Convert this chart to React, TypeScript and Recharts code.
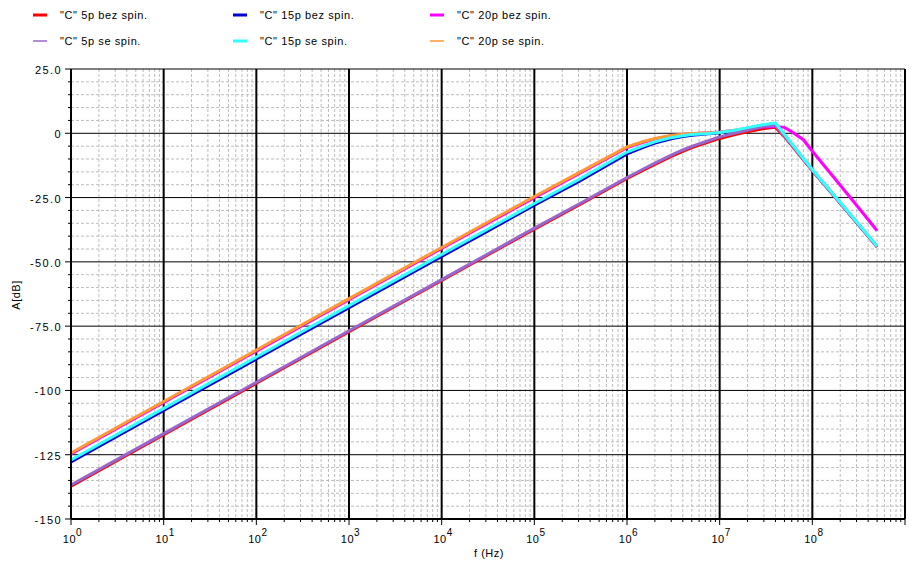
import React from 'react';
import { LineChart, Line, XAxis, YAxis, CartesianGrid } from 'recharts';

// Frequencies (Hz) at which the curves were read
const freqs = [1, 10, 100, 1e3, 1e4, 1e5, 3e5, 1e6, 1.5e6, 2e6, 3e6, 4e6, 5e6, 7e6, 1e7, 1.5e7, 2e7, 3e7, 4e7, 5e7, 6e7, 8e7, 1e8, 2e8, 3e8, 5e8];

// Amplitude A [dB] per series
const c5bez = [-137.2, -117.2, -97.2, -77.2, -57.2, -37.3, -28.0, -17.6, -14.3, -12.1, -9.0, -7.0, -5.6, -3.8, -2.0, -0.4, 0.6, 1.9, 2.3, -1.3, -4.8, -10.3, -14.5, -27.2, -34.7, -44.1];
const c5se = [-136.8, -116.8, -96.8, -76.8, -56.9, -36.9, -27.6, -17.2, -13.9, -11.6, -8.5, -6.5, -5.1, -3.3, -1.4, 0.2, 1.2, 2.7, 3.1, -1.1, -4.6, -10.1, -14.4, -27.1, -34.6, -44.0];
const c15bez = [-127.8, -107.8, -87.8, -67.8, -47.9, -28.0, -18.8, -8.0, -5.5, -3.8, -2.1, -1.3, -0.8, -0.3, 0.2, 1.1, 2.0, 3.2, 3.8, -0.6, -4.2, -10.0, -14.3, -27.1, -34.6, -44.1];
const c15se = [-127.0, -107.0, -87.0, -67.0, -47.1, -27.3, -18.0, -7.3, -4.9, -3.3, -1.7, -1.0, -0.5, -0.2, 0.3, 1.3, 2.2, 3.4, 4.0, -0.4, -4.0, -9.8, -14.1, -26.9, -34.4, -43.9];
const c20bez = [-124.7, -104.7, -84.7, -64.7, -44.8, -25.0, -15.8, -5.6, -3.5, -2.2, -1.0, -0.5, -0.2, 0.1, 0.5, 1.2, 1.8, 2.4, 2.6, 2.3, 0.6, -2.5, -7.0, -20.2, -28.0, -37.9];
const c20se = [-124.3, -104.3, -84.3, -64.3, -44.4, -24.6, -15.4, -5.3, -3.2, -2.0, -0.9, -0.4, -0.1, 0.1, 0.4, 1.3, 2.0, 3.0, 3.5, -0.8, -4.3, -10.0, -14.3, -27.0, -34.5, -44.0];

// Series names
const seriesNames: Record<string, string> = {
  c5bez: '"C" 5p bez spin.',
  c15bez: '"C" 15p bez spin.',
  c20bez: '"C" 20p bez spin.',
  c5se: '"C" 5p se spin.',
  c15se: '"C" 15p se spin.',
  c20se: '"C" 20p se spin.',
};

// Axis ticks / labels
const xDecades = [1, 10, 100, 1e3, 1e4, 1e5, 1e6, 1e7, 1e8, 1e9];
const xLabelExponents = ['0', '1', '2', '3', '4', '5', '6', '7', '8'];
const yMajor = [25, 0, -25, -50, -75, -100, -125, -150];
const yLabels = ['25.0', '0', '-25.0', '-50.0', '-75.0', '-100', '-125', '-150'];

const xMinor: number[] = [];
for (let e = 0; e < 9; e++) for (let m = 2; m <= 9; m++) xMinor.push(m * Math.pow(10, e));
const xAllTicks = [...xDecades, ...xMinor].sort((a, b) => a - b);
const yAllTicks: number[] = [];
for (let v = -150; v <= 25; v += 5) yAllTicks.push(v);
const yMinorOnly = yAllTicks.filter((v) => v % 25 !== 0);

const data = freqs.map((f, i) => ({
  f,
  c5bez: c5bez[i],
  c5se: c5se[i],
  c15bez: c15bez[i],
  c15se: c15se[i],
  c20bez: c20bez[i],
  c20se: c20se[i],
}));

const colors: Record<string, string> = {
  c5bez: '#ff0000',
  c15bez: '#0000cc',
  c20bez: '#ff00ff',
  c5se: '#9966cc',
  c15se: '#33ffff',
  c20se: '#ff9933',
};

const FONT = '"Liberation Sans", Arial, sans-serif';

const XTick = (props: any) => {
  const { x, y, payload } = props;
  const v = payload.value;
  const idx = xDecades.indexOf(v);
  const isDecade = idx >= 0;
  return (
    <g>
      <line x1={x} x2={x} y1={y} y2={y + (isDecade ? 6 : 3)} stroke="#000" strokeWidth={1} />
      {isDecade && idx < xLabelExponents.length && (
        <text x={x + 1.5} y={y + 24} textAnchor="middle" fontSize={11} fontFamily={FONT} fill="#000" letterSpacing={0.5}>
          10
          <tspan dy={-7} fontSize={10}>{xLabelExponents[idx]}</tspan>
        </text>
      )}
    </g>
  );
};

const YTick = (props: any) => {
  const { x, y, payload } = props;
  const v = payload.value;
  const idx = yMajor.indexOf(v);
  const major = idx >= 0;
  return (
    <g>
      <line x1={x} x2={x - (major ? 6 : 3)} y1={y} y2={y} stroke="#000" strokeWidth={1} />
      {major && (
        <text x={x - 9} y={y} dy={5} textAnchor="end" fontSize={11} fontFamily={FONT} fill="#000" letterSpacing={1.4}>
          {yLabels[idx]}
        </text>
      )}
    </g>
  );
};

const legendLayout = [
  { key: 'c5bez', x: 25, y: 7, w: 3 },
  { key: 'c15bez', x: 225, y: 7, w: 3 },
  { key: 'c20bez', x: 422, y: 7, w: 3 },
  { key: 'c5se', x: 25, y: 33, w: 1.5 },
  { key: 'c15se', x: 225, y: 33, w: 3 },
  { key: 'c20se', x: 422, y: 33, w: 1.5 },
];

const drawOrder = ['c5bez', 'c15bez', 'c20bez', 'c20se', 'c5se', 'c15se'];

export default function App() {
  return (
    <div style={{ position: 'relative', width: 914, height: 557, background: '#fff' }}>
      <LineChart
        width={914}
        height={557}
        data={data}
        margin={{ top: 61, right: 17, bottom: 0, left: 0 }}
        style={{ fontFamily: FONT }}
      >
        <CartesianGrid
          verticalValues={xMinor}
          horizontalValues={yMinorOnly}
          stroke="#bdbdbd"
          strokeDasharray="3 2"
        />
        <CartesianGrid horizontalValues={yMajor} vertical={false} stroke="#000" strokeWidth={1} />
        <CartesianGrid verticalValues={xDecades} horizontal={false} stroke="#000" strokeWidth={2} />
        <XAxis
          dataKey="f"
          type="number"
          scale="log"
          domain={[1, 1e9]}
          ticks={xAllTicks}
          interval={0}
          allowDataOverflow
          height={46}
          tickSize={0}
          tickMargin={0}
          tickLine={false}
          axisLine={{ stroke: '#000', strokeWidth: 2 }}
          tick={(p: any) => <XTick {...p} />}
        />
        <YAxis
          type="number"
          domain={[-150, 25]}
          ticks={yAllTicks}
          interval={0}
          allowDataOverflow
          width={63}
          tickSize={0}
          tickMargin={0}
          tickLine={false}
          axisLine={{ stroke: '#000', strokeWidth: 2 }}
          tick={(p: any) => <YTick {...p} />}
        />
        {drawOrder.map((k) => (
          <Line
            key={k}
            dataKey={k}
            name={seriesNames[k]}
            stroke={colors[k]}
            strokeWidth={3}
            dot={false}
            isAnimationActive={false}
            type="linear"
          />
        ))}
      </LineChart>
      <svg
        width={914}
        height={557}
        style={{ position: 'absolute', left: 0, top: 0, pointerEvents: 'none' }}
      >
        {legendLayout.map((l) => (
          <g key={l.key}>
            <line x1={l.x} x2={l.x + 14} y1={l.y} y2={l.y} stroke={colors[l.key]} strokeWidth={l.w} />
            <text x={l.x + 27} y={l.y + 4} fontSize={11} fontFamily={FONT} fill="#000" letterSpacing={0.6}>
              {seriesNames[l.key]}
            </text>
          </g>
        ))}
        <text
          x={12}
          y={287}
          transform="rotate(-90, 12, 287)"
          textAnchor="middle"
          fontSize={11}
          fontFamily={FONT}
          fill="#000"
          letterSpacing={0.5}
        >
          A[dB]
        </text>
        <text x={481} y={549} textAnchor="middle" fontSize={11} fontFamily={FONT} fill="#000" letterSpacing={0.5}>
          f (Hz)
        </text>
      </svg>
    </div>
  );
}
